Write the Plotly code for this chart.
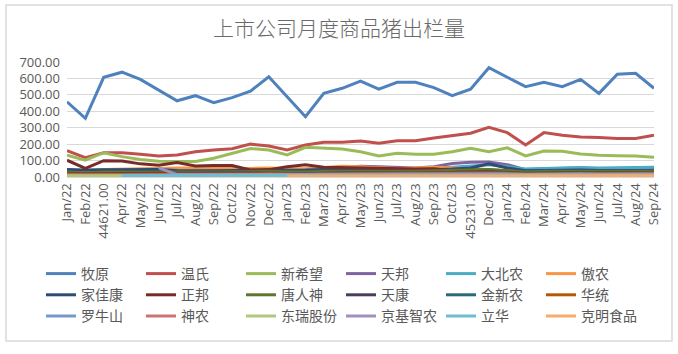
import plotly.graph_objects as go

months = ["Jan/22", "Feb/22", "44621.00", "Apr/22", "May/22", "Jun/22", "Jul/22", "Aug/22", "Sep/22",
          "Oct/22", "Nov/22", "Dec/22", "Jan/23", "Feb/23", "Mar/23", "Apr/23", "May/23", "Jun/23",
          "Jul/23", "Aug/23", "Sep/23", "Oct/23", "45231.00", "Dec/23", "Jan/24", "Feb/24", "Mar/24",
          "Apr/24", "May/24", "Jun/24", "Jul/24", "Aug/24", "Sep/24"]

muyuan = [458, 357, 607, 638, 594, 530, 464, 495, 452, 483, 523, 610, 490, 367, 509, 540, 584, 535,
          576, 576, 544, 495, 535, 665, 607, 550, 576, 550, 594, 509, 625, 631, 540]
wens = [160, 118, 148, 148, 138, 128, 134, 154, 164, 172, 200, 189, 164, 195, 211, 212, 219, 205,
        221, 221, 237, 250, 266, 302, 270, 195, 270, 254, 243, 241, 235, 235, 254]
xinxiwang = [133, 103, 148, 124, 107, 96, 95, 95, 114, 142, 173, 164, 134, 181, 175, 170, 154, 128,
             144, 138, 138, 154, 175, 154, 178, 128, 158, 156, 140, 132, 130, 128, 120]
tianbang = [40, 30, 42, 42, 40, 38, 35, 38, 40, 42, 40, 38, 40, 42, 50, 58, 66, 62,
            58, 55, 62, 82, 90, 92, 75, 45, 50, 52, 55, 50, 52, 53, 50]
dabeinong = [38, 35, 38, 40, 40, 38, 35, 35, 36, 38, 40, 42, 40, 38, 42, 45, 48, 45,
             48, 50, 52, 60, 68, 75, 62, 48, 52, 55, 58, 55, 55, 58, 60]
aonong = [42, 38, 45, 48, 50, 53, 55, 55, 52, 52, 52, 55, 50, 50, 58, 65, 62, 55,
          52, 55, 60, 55, 50, 45, 35, 25, 28, 30, 28, 25, 26, 25, 24]
jiajiakang = [45, 42, 44, 45, 45, 46, 40, 38, 38, 40, 40, 42, 40, 42, 45, 45, 42, 40,
              40, 42, 44, 48, 55, 80, 55, 38, 40, 40, 42, 40, 40, 42, 40]
zhengbang = [102, 52, 99, 97, 80, 72, 88, 67, 70, 70, 43, 45, 62, 75, 60, 58, 55, 50,
             52, 48, 50, 40, 42, 38, 30, 28, 30, 30, 32, 32, 30, 30, 28]
tangrenshen = [30, 25, 30, 32, 30, 30, 28, 30, 30, 32, 35, 35, 32, 30, 35, 35, 35, 33,
               35, 35, 38, 40, 42, 45, 40, 30, 35, 35, 35, 33, 35, 35, 35]
tiankang = [20, 18, 20, 22, 22, 20, 20, 22, 22, 24, 25, 25, 22, 20, 24, 25, 25, 24,
            25, 25, 26, 28, 30, 32, 28, 22, 25, 26, 27, 26, 27, 28, 28]
jinxinnong = [12, 10, 12, 13, 13, 12, 12, 13, 13, 14, 14, 15, 13, 12, 14, 15, 15, 14,
              15, 15, 16, 16, 17, 18, 16, 13, 15, 15, 16, 15, 16, 16, 16]
huatong = [16, 14, 16, 17, 17, 16, 17, 18, 18, 19, 20, 21, 18, 17, 20, 21, 22, 21,
           22, 22, 23, 24, 25, 26, 24, 20, 22, 22, 23, 22, 23, 24, 24]
luoniushan = [5, 4, 5, 5, 5, 5, 5, 5, 5, 6, 6, 6, 5, 5, 6, 6, 6, 6,
              6, 6, 6, 7, 7, 7, 6, 5, 6, 6, 6, 6, 6, 6, 6]
shennong = [12, 10, 12, 12, 12, 12, 12, 13, 13, 14, 14, 15, 13, 12, 14, 14, 15, 14,
            15, 15, 16, 16, 17, 18, 16, 13, 15, 15, 16, 15, 16, 16, 16]
dongrui = [8, 7, 8, 8, 8, 8, 8, 8, 8, 8, 9, 9, 8, 7, 8, 8, 8, 8,
           8, 8, 8, 9, 9, 9, 8, 7, 8, 8, 8, 8, 8, 8, 8]
jingjizhinong = [None, None, None, None, None, 55, 15, 14, 14, 15, 15, 16, 15, 14, 16, 16, 17, 16,
                 17, 17, 18, 18, 19, 20, 18, 15, 17, 17, 18, 17, 18, 18, 18]
lihua = [None, None, None, 9, 10, 10, 10, 10, 11, 11, 11, 12, 10, 10, 11, 11, 11, 11,
         11, 11, 12, 12, 12, 13, 11, 10, 11, 11, 11, 11, 11, 12, 12]
keming = [None] * 12 + [6, 6, 7, 7, 7, 7, 7, 7, 7, 7, 8, 8, 7, 6, 7, 7, 7, 7, 7, 7, 7]

names = ["牧原", "温氏", "新希望", "天邦", "大北农", "傲农",
         "家佳康", "正邦", "唐人神", "天康", "金新农", "华统",
         "罗牛山", "神农", "东瑞股份", "京基智农", "立华", "克明食品"]
series = [muyuan, wens, xinxiwang, tianbang, dabeinong, aonong,
          jiajiakang, zhengbang, tangrenshen, tiankang, jinxinnong, huatong,
          luoniushan, shennong, dongrui, jingjizhinong, lihua, keming]
colors = ["#4F81BD", "#C0504D", "#9BBB59", "#8064A2", "#4BACC6", "#F79646",
          "#2C4D75", "#772C2A", "#5F7530", "#4D3B62", "#276A7C", "#B65708",
          "#729ACA", "#CD7371", "#AFC97A", "#A18FBF", "#6FBDD1", "#F9AB6B"]

W, H = 678, 354
ML, MR, MT, MB = 67, 24, 62, 177
PW, PH = W - ML - MR, H - MT - MB

fig = go.Figure()
for n, s, c in zip(names, series, colors):
    fig.add_trace(go.Scatter(x=months, y=s, name=n, mode="lines",
                             line=dict(color=c, width=3), connectgaps=False))

def px2x(px):
    return (px - ML) / PW

def px2y(py):
    return (H - MB - py) / PH

fig.add_shape(type="rect", xref="paper", yref="paper",
              x0=px2x(6), x1=px2x(672), y0=px2y(341), y1=px2y(5),
              line=dict(color="#D9D9D9", width=1.5), fillcolor="rgba(0,0,0,0)", layer="below")

fig.update_layout(
    width=W, height=H,
    margin=dict(l=ML, r=MR, t=MT, b=MB, autoexpand=False),
    paper_bgcolor="white", plot_bgcolor="white",
    title=dict(text="上市公司月度商品猪出栏量", x=0.5, xanchor="center", xref="container",
               y=1 - 29 / H, yanchor="middle", yref="container",
               font=dict(family="Noto Sans CJK SC", size=21, color="#6A6A6A", weight=300)),
    xaxis=dict(type="category", tickangle=-90, showgrid=False, showline=True,
               linecolor="#D9D9D9", linewidth=1, ticks="",
               tickfont=dict(family="Open Sans", size=13, color="#595959")),
    yaxis=dict(range=[0, 700], dtick=100, tickformat=".2f", showgrid=True,
               gridcolor="#D9D9D9", gridwidth=1, zeroline=False, ticks="",
               ticklabelstandoff=6,
               tickfont=dict(family="Open Sans", size=13, color="#595959")),
    showlegend=True,
    legend=dict(orientation="h", x=px2x(41), xanchor="left", y=px2y(258), yanchor="top",
                entrywidth=55, entrywidthmode="pixels", traceorder="normal",
                font=dict(family="Noto Sans CJK SC", size=14, color="#595959"),
                bgcolor="rgba(0,0,0,0)"),
)

fig.write_html("out.html")
